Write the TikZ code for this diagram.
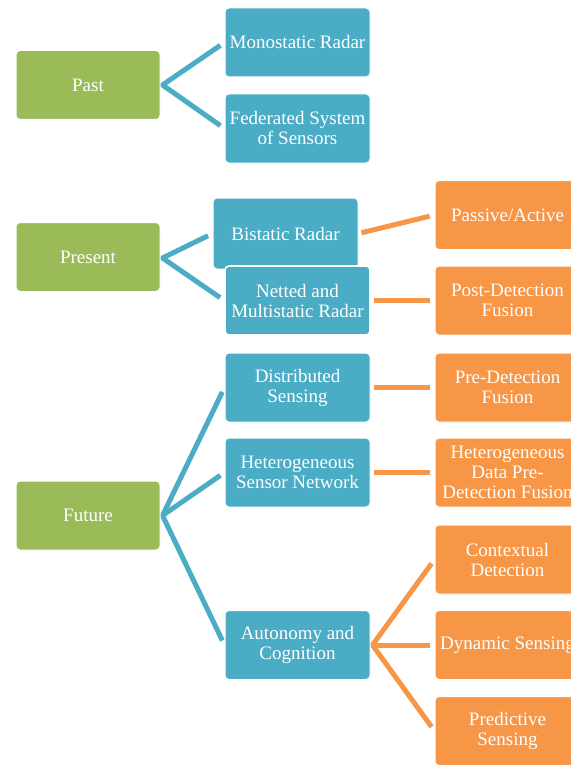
\documentclass[tikz,border=0pt]{standalone}
\usepackage{fontspec}
\setmainfont{Liberation Serif}
\usetikzlibrary{backgrounds}
\definecolor{leafgreen}{HTML}{9BBB59}
\definecolor{tealblue}{HTML}{4BACC6}
\definecolor{tangerine}{HTML}{F79646}
\begin{document}
\begin{tikzpicture}[x=1pt,y=-1pt,
  box/.style={rectangle, rounded corners=4pt, draw=white, line width=1pt,
    text=white, minimum width=145pt, minimum height=69pt, inner sep=0pt,
    align=center, font=\fontsize{19}{20}\selectfont},
  era/.style={box, fill=leafgreen, minimum width=144pt},
  tech/.style={box, fill=tealblue},
  trend/.style={box, fill=tangerine},
  bline/.style={draw=tealblue, line width=5pt, line join=miter},
  oline/.style={draw=tangerine, line width=5pt, line join=miter},
]
\useasboundingbox (0,0) rectangle (570,765);

% eras
\node[era] (past)    at (88,85)    {Past};
\node[era] (present) at (88,257)   {Present};
\node[era] (future)  at (88,515.5) {Future};

% past technologies
\node[tech] (mono) at (297.5,42.5)  {Monostatic Radar};
\node[tech] (fed)  at (297.5,128.5) {Federated System\\of Sensors};

% present technologies
\node[tech, minimum height=71pt] (bist) at (285.5,233.5) {Bistatic Radar};
\node[tech, line width=1.6pt] (nett) at (297.5,300.5) {Netted and\\Multistatic Radar};
\node[trend] (passive) at (507.5,215)   {Passive/Active};
\node[trend] (post)    at (507.5,300.5) {Post-Detection\\Fusion};

% future technologies
\node[tech]  (dist)    at (297.5,387.5) {Distributed\\Sensing};
\node[tech]  (hsn)     at (297.5,472.5) {Heterogeneous\\Sensor Network};
\node[tech]  (auto)    at (297.5,645)   {Autonomy and\\Cognition};
\node[trend] (pre)     at (507.5,387.5) {Pre-Detection\\Fusion};
\node[trend] (hdpf)    at (507.5,472.5) {Heterogeneous\\Data Pre-\\Detection Fusion};
\node[trend] (ctx)     at (507.5,559.5) {Contextual\\Detection};
\node[trend] (dyn)     at (507.5,645)   {Dynamic Sensing};
\node[trend] (predict) at (507.5,731)   {Predictive\\Sensing};

% fork points
\coordinate (pastfork)    at ([xshift=2pt]past.east);
\coordinate (presentfork) at ([xshift=2pt,yshift=-1pt]present.east);
\coordinate (futurefork)  at ([xshift=2pt]future.east);
\coordinate (autofork)    at ([xshift=2pt]auto.east);

\begin{scope}[on background layer]
  \fill[white] (0,0) rectangle (570,765);
  \draw[bline, shorten <=5pt, shorten >=5pt] (mono.west) -- (pastfork) -- (fed.west);
  \draw[bline, shorten <=5pt, shorten >=5pt] (bist.west) -- (presentfork) -- (nett.west);
  \draw[bline, shorten <=5pt, shorten >=5pt] (dist.west) -- (futurefork) -- (auto.west);
  \draw[bline, shorten >=5pt] (futurefork) -- (hsn.west);
  \draw[oline, shorten <=3pt, shorten >=5pt] (bist.east) -- (passive.west);
  \draw[oline, shorten <=3pt, shorten >=5pt] (nett.east) -- (post.west);
  \draw[oline, shorten <=3pt, shorten >=5pt] (dist.east) -- (pre.west);
  \draw[oline, shorten <=3pt, shorten >=5pt] (hsn.east) -- (hdpf.west);
  \draw[oline, shorten <=5pt, shorten >=5pt] (ctx.west) -- (autofork) -- (predict.west);
  \draw[oline, shorten >=5pt] (autofork) -- (dyn.west);
\end{scope}
\end{tikzpicture}
\end{document}
